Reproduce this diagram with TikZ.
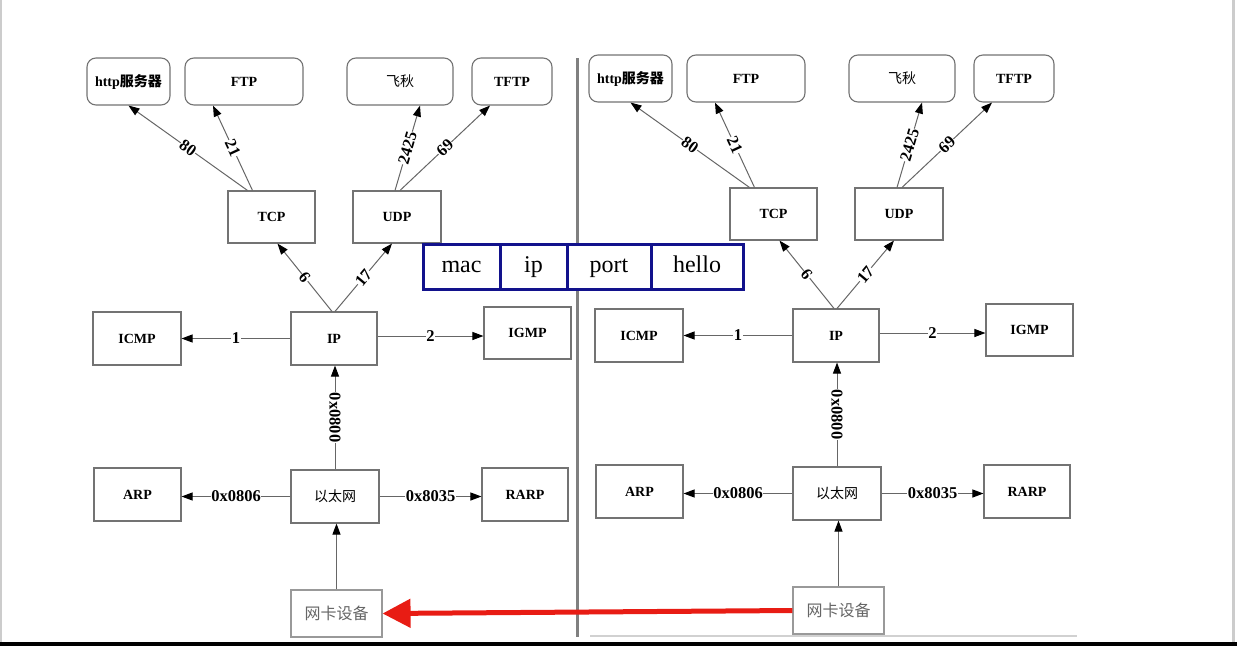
\documentclass[tikz,border=0pt]{standalone}
\usepackage{fontspec}
\setmainfont{Liberation Serif}
\newfontfamily\cjk{Noto Sans CJK SC}
\usetikzlibrary{arrows.meta,positioning}
\definecolor{navy}{RGB}{18,18,140}
\definecolor{hintred}{RGB}{232,28,20}

\tikzset{
  proto/.style={draw=black!55, line width=1.1pt, fill=white, inner sep=0pt,
    font=\bfseries\fontsize{14}{14}\selectfont},
  app/.style={proto, rounded corners=9pt},
  edge/.style={draw=black!60, line width=1pt, -{Triangle[length=11pt,width=8pt,color=black]}},
  num/.style={fill=white, inner sep=0.5pt, font=\bfseries\fontsize{16.5}{16.5}\selectfont},
  field/.style={draw=navy, line width=3pt, fill=white, outer sep=0pt, inner sep=0pt,
    minimum height=45pt, text height=17pt, text depth=5pt, font=\fontsize{24}{24}\selectfont},
}

\begin{document}
\begin{tikzpicture}[x=1pt,y=-1pt]
\useasboundingbox (0,0) rectangle (1237,646);
% screen frame
\draw[black!20, line width=2pt] (1,0) -- (1,642);
\draw[black!20, line width=3pt] (1233.5,0) -- (1233.5,642);
\fill[black] (0,642) rectangle (1237,646);
\draw[black!50, line width=2.5pt] (577.5,58) -- (577.5,637);
\draw[black!18, line width=2pt] (590,636) -- (1077,636);

% the two protocol stacks
\foreach \side/\dx/\dy in {L/0/0,R/502/-3}{
\begin{scope}[shift={(\dx,\dy)}, name prefix=\side-]
  \node[app, minimum width=83pt, minimum height=47pt] (http) at (128.5,81.5) {http{\cjk 服务器}};
  \node[app, minimum width=118pt, minimum height=47pt] (ftp) at (244,81.5) {FTP};
  \node[app, minimum width=106pt, minimum height=47pt] (feiqiu) at (400,81.5) {\mdseries\cjk 飞秋};
  \node[app, minimum width=80pt, minimum height=47pt] (tftp) at (512,81.5) {TFTP};

  \node[proto, minimum width=87pt, minimum height=52pt] (tcp) at (271.5,217) {TCP};
  \node[proto, minimum width=88pt, minimum height=52pt] (udp) at (397,217) {UDP};

  \node[proto, minimum width=88pt, minimum height=53pt] (icmp) at (137,338.5) {ICMP};
  \node[proto, minimum width=86pt, minimum height=53pt] (ip) at (334,338.5) {IP};
  \node[proto, minimum width=87pt, minimum height=52pt] (igmp) at (527.5,333) {IGMP};

  \node[proto, minimum width=87pt, minimum height=53pt] (arp) at (137.5,494.5) {ARP};
  \node[proto, minimum width=88pt, minimum height=53pt] (eth) at (335,496.5) {\mdseries\cjk 以太网};
  \node[proto, minimum width=86pt, minimum height=53pt] (rarp) at (525,494.5) {RARP};

  \node[proto, draw=black!40, text=black!60, minimum width=91pt, minimum height=47pt,
    font=\cjk\fontsize{16}{16}\selectfont] (nic) at (336.5,613.5) {网卡设备};

  \draw[edge] ([xshift=-24pt]tcp.north) -- node[num,sloped]{80} (http.south);
  \draw[edge] ([xshift=-19pt]tcp.north) -- node[num,sloped]{21} ([xshift=-31pt]ftp.south);
  \draw[edge] ([xshift=-2pt]udp.north) -- node[num,sloped]{2425} ([xshift=20pt]feiqiu.south);
  \draw[edge] ([xshift=3pt]udp.north) -- node[num,sloped]{69} ([xshift=-22pt]tftp.south);

  \draw[edge] ([xshift=-2pt]ip.north) -- node[num,sloped]{6} ([xshift=6pt]tcp.south);
  \draw[edge] ([xshift=1pt]ip.north) -- node[num,sloped]{17} ([xshift=-5pt]udp.south);
  \draw[edge] (ip.west) -- node[num]{1} (icmp.east);
  \draw[edge] ([yshift=2.5pt]ip.east) -- node[num]{2} ([yshift=2.5pt]ip.east -| igmp.west);

  \draw[edge] (eth.north) -- node[num,rotate=-90]{0x0800} (eth.north |- ip.south);
  \draw[edge] (eth.west) -- node[num]{0x0806} (eth.west -| arp.east);
  \draw[edge] (eth.east) -- node[num]{0x8035} (eth.east -| rarp.west);
  \draw[edge] (nic.north) -- (nic.north |- eth.south);
\end{scope}
}

% the packet
\node[field, minimum width=77pt] (mac) at (461.5,266.5) {mac};
\node[field, minimum width=67pt, right=0pt of mac] (ipfield) {ip};
\node[field, minimum width=84pt, right=0pt of ipfield] (port) {port};
\node[field, minimum width=92pt, right=0pt of port] (hello) {hello};

% hint arrow
\draw[hintred, line width=5pt, -{Triangle[length=28pt,width=28pt]}] (R-nic.west) -- (L-nic.east);
\end{tikzpicture}
\end{document}
